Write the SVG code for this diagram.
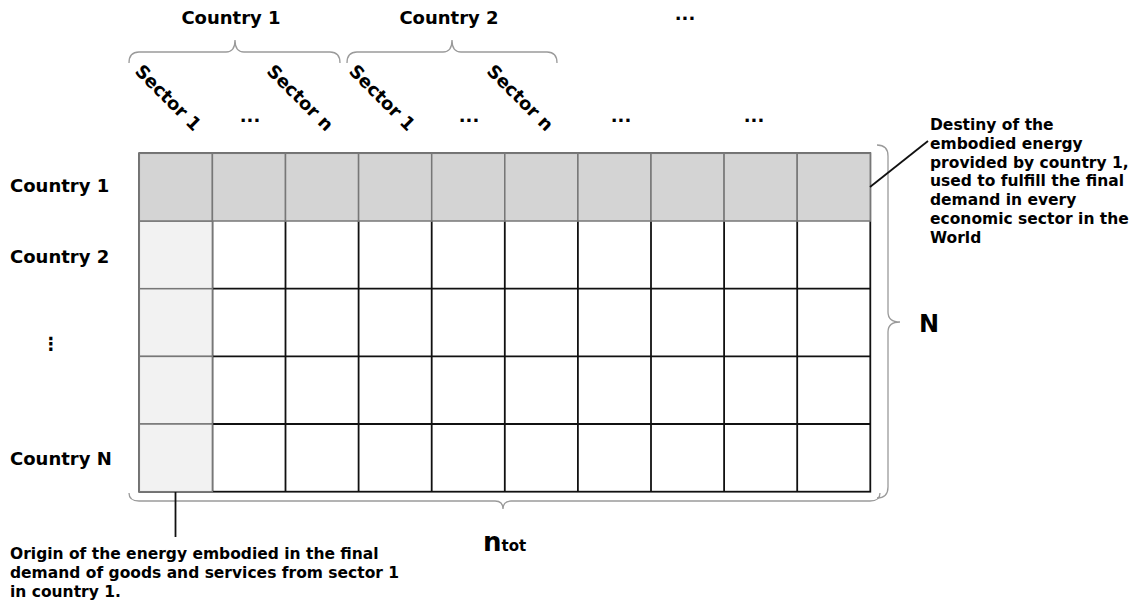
<svg xmlns="http://www.w3.org/2000/svg" width="1143" height="608" viewBox="0 0 1143 608">
<style>
text{font-family:"DejaVu Sans","Liberation Sans",sans-serif;font-weight:bold;fill:#000}
.lbl{font-size:18px}
.dots{font-size:18px}
.note{font-size:15.5px}
.cellH{fill:#d4d4d4;stroke:#777;stroke-width:1.5}
.cellL{fill:#f2f2f2;stroke:#777;stroke-width:1.5}
.cellW{fill:#fff;stroke:#111;stroke-width:1.8}
.brace{fill:none;stroke:#9a9a9a;stroke-width:1.3}
.lead{fill:none;stroke:#111;stroke-width:1.8}
</style>
<rect width="1143" height="608" fill="#fff"/>
<g id="grid">
<rect class="cellW" x="139.3" y="153.3" width="731" height="338.4"/>
<g stroke="#111" stroke-width="1.8">
<line x1="212.4" y1="221" x2="212.4" y2="491.7"/><line x1="285.5" y1="221" x2="285.5" y2="491.7"/><line x1="358.6" y1="221" x2="358.6" y2="491.7"/><line x1="431.7" y1="221" x2="431.7" y2="491.7"/><line x1="504.8" y1="221" x2="504.8" y2="491.7"/><line x1="577.9" y1="221" x2="577.9" y2="491.7"/><line x1="651" y1="221" x2="651" y2="491.7"/><line x1="724.1" y1="221" x2="724.1" y2="491.7"/><line x1="797.2" y1="221" x2="797.2" y2="491.7"/>
<line x1="139.3" y1="288.7" x2="870.3" y2="288.7"/><line x1="139.3" y1="356.4" x2="870.3" y2="356.4"/><line x1="139.3" y1="424" x2="870.3" y2="424"/>
</g>
<g id="firstcol">
<rect class="cellL" x="139.3" y="221" width="73.1" height="67.7"/><rect class="cellL" x="139.3" y="288.7" width="73.1" height="67.7"/><rect class="cellL" x="139.3" y="356.4" width="73.1" height="67.6"/><rect class="cellL" x="139.3" y="424" width="73.1" height="67.7"/>
</g>
<g id="toprow">
<rect class="cellH" x="139.3" y="153.3" width="73.1" height="67.7"/><rect class="cellH" x="212.4" y="153.3" width="73.1" height="67.7"/><rect class="cellH" x="285.5" y="153.3" width="73.1" height="67.7"/><rect class="cellH" x="358.6" y="153.3" width="73.1" height="67.7"/><rect class="cellH" x="431.7" y="153.3" width="73.1" height="67.7"/><rect class="cellH" x="504.8" y="153.3" width="73.1" height="67.7"/><rect class="cellH" x="577.9" y="153.3" width="73.1" height="67.7"/><rect class="cellH" x="651" y="153.3" width="73.1" height="67.7"/><rect class="cellH" x="724.1" y="153.3" width="73.1" height="67.7"/><rect class="cellH" x="797.2" y="153.3" width="73.1" height="67.7"/>
</g>
</g>
<g id="connectors">
<path class="brace" d="M129,63 Q129,52 139,52 L226,52 Q235,52 235,40 Q235,52 244,52 L330,52 Q340,52 340,63"/>
<path class="brace" d="M347,63 Q347,52 357,52 L443,52 Q452,52 452,40 Q452,52 461,52 L547,52 Q557,52 557,63"/>
<path class="brace" d="M877,145 Q888,145 888,156 L888,312 Q888,322 900,322 Q888,322 888,332 L888,487 Q888,498 877,498"/>
<path class="brace" d="M129,493 Q129,501 139,501 L495,501 Q503,501 503,509 Q503,501 511,501 L870,501 Q880,501 880,493"/>
<line class="lead" x1="175.5" y1="492" x2="175.5" y2="537"/>
<line class="lead" x1="870" y1="187" x2="928" y2="141"/>
</g>
<g id="col-headers">
<text class="lbl" x="231" y="24" text-anchor="middle">Country 1</text>
<text class="lbl" x="449" y="24" text-anchor="middle">Country 2</text>
<text class="dots" x="685" y="20" text-anchor="middle">...</text>
<text class="lbl" x="168" y="104" text-anchor="middle" transform="rotate(45 168 98)">Sector 1</text>
<text class="lbl" x="300" y="104" text-anchor="middle" transform="rotate(45 300 98)">Sector n</text>
<text class="lbl" x="382" y="104" text-anchor="middle" transform="rotate(45 382 98)">Sector 1</text>
<text class="lbl" x="520" y="104" text-anchor="middle" transform="rotate(45 520 98)">Sector n</text>
<text class="dots" x="250" y="122" text-anchor="middle">...</text>
<text class="dots" x="469" y="122" text-anchor="middle">...</text>
<text class="dots" x="621" y="122" text-anchor="middle">...</text>
<text class="dots" x="754" y="122" text-anchor="middle">...</text>
</g>
<g id="row-headers">
<text class="lbl" x="10" y="192">Country 1</text>
<text class="lbl" x="10" y="263">Country 2</text>
<text class="lbl" x="51" y="350" text-anchor="middle">⋮</text>
<text class="lbl" x="10" y="465">Country N</text>
</g>
<g id="dims">
<text x="919" y="332" style="font-size:24px">N</text>
<text x="483" y="551" style="font-size:26px">n<tspan style="font-size:15px">tot</tspan></text>
</g>
<g id="destiny-note">
<text class="note"><tspan x="930" y="130">Destiny of the</tspan><tspan x="930" y="148.8">embodied energy</tspan><tspan x="930" y="167.6">provided by country 1,</tspan><tspan x="930" y="186.4">used to fulfill the final</tspan><tspan x="930" y="205.2">demand in every</tspan><tspan x="930" y="224">economic sector in the</tspan><tspan x="930" y="242.8">World</tspan></text>
</g>
<g id="origin-note">
<text class="note"><tspan x="10" y="559">Origin of the energy embodied in the final</tspan><tspan x="10" y="578">demand of goods and services from sector 1</tspan><tspan x="10" y="597">in country 1.</tspan></text>
</g>
</svg>
